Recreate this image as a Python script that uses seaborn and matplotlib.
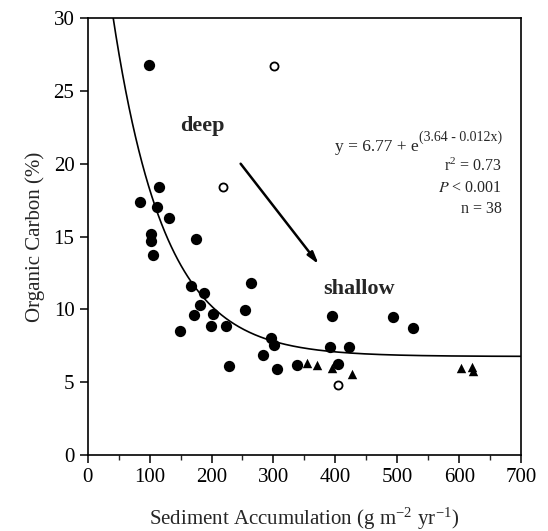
import numpy as np
import pandas as pd
import matplotlib
matplotlib.use("Agg")
import matplotlib.pyplot as plt
import seaborn as sns
from matplotlib.ticker import MultipleLocator

# --- data ---
# filled circles (included in fit)
circle_x = [99.5, 114.7, 84.5, 112.5, 131.9, 102, 102, 174.4, 105, 166.9,
            188, 181.4, 171.7, 202, 149, 199, 223.4, 254, 263.8, 228.8,
            295.6, 301.5, 282.6, 306, 338.6, 391.4, 395, 493.7, 526, 422.6, 404.9]
circle_y = [26.8, 18.4, 17.4, 17.0, 16.3, 15.2, 14.7, 14.8, 13.7, 11.6,
            11.1, 10.3, 9.6, 9.7, 8.5, 8.86, 8.86, 9.98, 11.8, 6.1,
            8.06, 7.53, 6.85, 5.93, 6.2, 7.44, 9.57, 9.47, 8.74, 7.44, 6.23]
# triangles
tri_x = [354.8, 369.9, 394, 426.5, 603, 620, 622]
tri_y = [6.3, 6.16, 6.0, 5.55, 6.0, 6.05, 5.78]
# open circles (not in fit)
open_x = [301, 219, 403.8]
open_y = [26.7, 18.4, 4.84]

# fit: y = a + exp(b - c*x)
fit_a, fit_b, fit_c = 6.77, 3.64, 0.012

sns.set_style("ticks")
plt.rcParams['font.family'] = ['Liberation Serif', 'DejaVu Serif']
plt.rcParams['mathtext.fontset'] = 'stix'

fig = plt.figure(figsize=(5.48, 5.31), dpi=100)
ax = fig.add_axes([0.16, 0.143, 0.791, 0.823])

fit_x = np.linspace(0, 700, 400)
fit_df = pd.DataFrame({'x': fit_x, 'y': fit_a + np.exp(fit_b - fit_c * fit_x)})
sns.lineplot(data=fit_df, x='x', y='y', ax=ax, color='black', linewidth=1.2)

sns.scatterplot(x=circle_x, y=circle_y, ax=ax, color='black', marker='o',
                s=66, edgecolor='black', linewidth=0, zorder=3)
sns.scatterplot(x=tri_x, y=tri_y, ax=ax, color='black', marker='^',
                s=46, edgecolor='black', linewidth=0, zorder=3)
sns.scatterplot(x=open_x, y=open_y, ax=ax, facecolor='white', marker='o',
                s=34, edgecolor='black', linewidth=1.3, zorder=3)

ax.set_xlim(0, 700)
ax.set_ylim(0, 30)
ax.xaxis.set_major_locator(MultipleLocator(100))
ax.xaxis.set_minor_locator(MultipleLocator(50))
ax.yaxis.set_major_locator(MultipleLocator(5))
ax.tick_params(which='major', direction='out', length=6, width=1.1, labelsize=15, colors='black')
ax.tick_params(which='minor', axis='x', direction='out', length=3.5, width=1.0)
for sp in ax.spines.values():
    sp.set_linewidth(1.2)
    sp.set_color('black')

ax.set_xlabel(r'Sediment Accumulation (g m$^{\mathregular{-2}}$ yr$^{\mathregular{-1}}$)', fontsize=15, labelpad=13)
ax.set_ylabel('Organic Carbon (%)', fontsize=15, labelpad=6)

ax.text(150, 22.6, 'deep', fontsize=16, fontweight='bold', va='center', ha='left')
ax.text(380, 11.4, 'shallow', fontsize=16, fontweight='bold', va='center', ha='left')
ax.annotate('', xy=(373, 13.1), xytext=(247, 20.0),
            arrowprops=dict(arrowstyle='-|>,head_length=0.7,head_width=0.2',
                            color='black', linewidth=1.8, shrinkA=0, shrinkB=0))

# equation: exponent anchored at the right, base text placed to its left
exp_txt = ax.text(669, 21.55, '(3.64 - 0.012x)', fontsize=10, ha='right', va='baseline')
ax.annotate('y = 6.77 + e', xy=(0, 0), xycoords=exp_txt, xytext=(0, -4.5),
            textcoords='offset points', fontsize=12.5, ha='right', va='baseline')
ax.text(669, 19.8, r'r$^{\mathregular{2}}$ = 0.73', fontsize=11.5, ha='right', va='center')
ax.text(669, 18.3, r'$P$ < 0.001', fontsize=11.5, ha='right', va='center')
ax.text(669, 16.9, 'n = 38', fontsize=11.5, ha='right', va='center')

fig.savefig('out.png', dpi=100)
